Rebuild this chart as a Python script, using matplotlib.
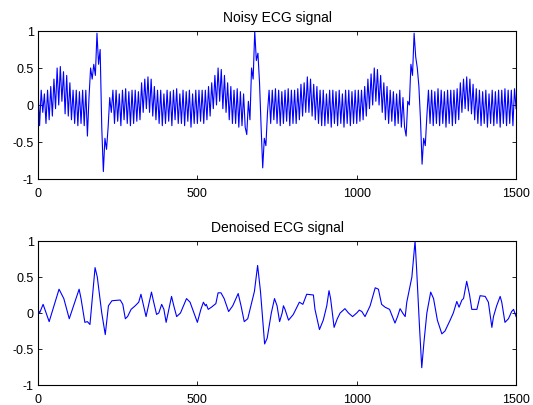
import numpy as np
import matplotlib
matplotlib.use('Agg')
import matplotlib.pyplot as plt

plt.rcParams['font.family'] = ['Liberation Sans', 'DejaVu Sans']
plt.rcParams['axes.unicode_minus'] = False

# noisy ECG, read every 5 samples (alternating noise peaks / troughs)
noisy_step = 5
noisy_y = [
    # 0 - 95
    0.22, -0.28, 0.2, -0.1, 0.15, -0.25, 0.2, -0.2, 0.25, -0.15,
    0.35, -0.05, 0.5, 0.0, 0.52, 0.05, 0.45, -0.12, 0.4, -0.15,
    # 100 - 195
    0.3, -0.2, 0.2, -0.25, 0.2, -0.28, 0.18, -0.25, 0.2, -0.28,
    0.2, -0.42, 0.1, 0.5, 0.35, 0.55, 0.4, 0.97, 0.55, 0.75,
    # 200 - 295
    -0.3, -0.9, -0.45, -0.6, -0.3, 0.1, -0.1, 0.2, -0.25, 0.2,
    -0.22, 0.15, -0.28, 0.2, -0.2, 0.22, -0.25, 0.18, -0.28, 0.2,
    # 300 - 395
    -0.25, 0.2, -0.22, 0.18, -0.2, 0.3, -0.1, 0.35, -0.05, 0.38,
    -0.1, 0.35, -0.15, 0.25, -0.2, 0.2, -0.25, 0.2, -0.28, 0.15,
    # 400 - 495
    -0.25, 0.2, -0.22, 0.18, -0.28, 0.2, -0.2, 0.22, -0.25, 0.15,
    -0.25, 0.2, -0.28, 0.18, -0.22, 0.2, -0.3, 0.15, -0.25, 0.2,
    # 500 - 595
    -0.25, 0.2, -0.22, 0.2, -0.25, 0.2, -0.2, 0.25, -0.15, 0.3,
    -0.05, 0.4, 0.0, 0.5, 0.05, 0.48, -0.05, 0.4, -0.1, 0.3,
    # 600 - 695
    -0.2, 0.25, -0.25, 0.2, -0.25, 0.22, -0.3, 0.18, -0.28, 0.15,
    -0.3, -0.4, 0.05, -0.2, 0.5, 0.35, 1.0, 0.6, 0.7, 0.3,
    # 700 - 795
    -0.3, -0.85, -0.45, -0.55, -0.1, 0.2, -0.25, 0.2, -0.2, 0.22,
    -0.25, 0.2, -0.28, 0.18, -0.25, 0.2, -0.22, 0.22, -0.28, 0.2,
    # 800 - 895
    -0.25, 0.2, -0.25, 0.22, -0.2, 0.28, -0.15, 0.3, -0.1, 0.38,
    -0.1, 0.35, -0.15, 0.28, -0.2, 0.25, -0.25, 0.2, -0.28, 0.2,
    # 900 - 995
    -0.28, 0.15, -0.25, 0.2, -0.3, 0.2, -0.25, 0.18, -0.28, 0.2,
    -0.25, 0.15, -0.3, 0.2, -0.25, 0.2, -0.28, 0.18, -0.25, 0.2,
    # 1000 - 1095
    -0.25, 0.2, -0.22, 0.2, -0.2, 0.25, -0.15, 0.35, -0.05, 0.42,
    0.0, 0.5, 0.05, 0.48, 0.0, 0.4, -0.1, 0.3, -0.2, 0.25,
    # 1100 - 1195
    -0.25, 0.2, -0.22, 0.18, -0.28, 0.15, -0.25, 0.2, -0.3, 0.1,
    -0.3, -0.42, 0.05, 0.0, 0.55, 0.4, 0.97, 0.65, 0.5, 0.25,
    # 1200 - 1295
    -0.2, -0.8, -0.45, -0.55, -0.15, 0.2, -0.25, 0.2, -0.28, 0.18,
    -0.25, 0.22, -0.28, 0.2, -0.25, 0.18, -0.3, 0.2, -0.25, 0.2,
    # 1300 - 1395
    -0.28, 0.2, -0.25, 0.22, -0.2, 0.3, -0.1, 0.35, -0.05, 0.38,
    -0.08, 0.35, -0.12, 0.28, -0.2, 0.22, -0.25, 0.2, -0.28, 0.18,
    # 1400 - 1500
    -0.25, 0.2, -0.3, 0.15, -0.25, 0.2, -0.28, 0.18, -0.25, 0.2,
    -0.3, 0.2, -0.25, 0.22, -0.28, 0.2, -0.25, 0.2, -0.28, 0.22,
    -0.05,
]
noisy_x = np.arange(len(noisy_y)) * noisy_step

# denoised ECG, turning points
den_x = [0, 5, 16, 35, 66, 81, 98, 129, 135, 147, 155, 163, 179, 186, 200,
         211, 221, 232, 258, 266, 274, 281, 292, 305, 316, 323, 339, 356, 363,
         372, 379, 388, 395, 402, 413, 419, 426, 435, 447, 466, 477, 500, 511,
         519, 525, 528, 534, 544, 558, 565, 574, 584, 598, 611, 628, 637, 647,
         658, 679, 689, 698, 705, 711, 719, 732, 742, 750, 758, 766, 770, 775,
         786, 801, 820, 831, 843, 864, 869, 883, 895, 906, 913, 918, 929, 939,
         948, 963, 974, 987, 1000, 1008, 1016, 1026, 1042, 1058, 1068, 1078,
         1089, 1103, 1120, 1128, 1136, 1144, 1152, 1157, 1173, 1183, 1188,
         1197, 1204, 1211, 1220, 1232, 1241, 1253, 1267, 1277, 1293, 1303,
         1314, 1321, 1330, 1335, 1345, 1354, 1361, 1377, 1387, 1403, 1413,
         1424, 1429, 1439, 1450, 1455, 1465, 1476, 1486, 1492, 1500]
den_y = [0.05, 0.0, 0.12, -0.12, 0.33, 0.2, -0.08, 0.33, 0.2, -0.13, -0.12,
         -0.16, 0.63, 0.5, 0.0, -0.3, 0.1, 0.17, 0.18, 0.12, -0.08, -0.05,
         0.05, 0.1, 0.15, 0.26, -0.05, 0.29, 0.15, -0.02, 0.0, 0.12, 0.05,
         -0.13, 0.1, 0.23, 0.1, -0.05, 0.0, 0.2, 0.15, -0.13, 0.05, 0.15, 0.1,
         0.12, 0.05, 0.08, 0.13, 0.28, 0.28, 0.2, 0.02, 0.1, 0.27, 0.1, -0.12,
         -0.08, 0.3, 0.66, 0.3, -0.1, -0.43, -0.35, 0.0, 0.2, 0.1, -0.12, 0.0,
         0.1, 0.05, -0.1, -0.02, 0.15, 0.12, 0.26, 0.25, 0.05, -0.23, -0.1,
         0.1, 0.31, 0.2, -0.2, -0.08, 0.0, 0.06, 0.0, -0.05, 0.0, 0.04, 0.02,
         -0.05, 0.1, 0.35, 0.33, 0.12, 0.08, 0.05, -0.14, -0.05, 0.06, 0.0,
         -0.05, 0.15, 0.5, 1.0, 0.6, -0.2, -0.76, -0.4, 0.0, 0.29, 0.2, -0.1,
         -0.29, -0.25, -0.1, 0.0, 0.16, 0.08, 0.18, 0.2, 0.44, 0.25, 0.05,
         0.05, 0.24, 0.23, 0.15, -0.2, -0.05, 0.1, 0.23, 0.15, -0.13, -0.08,
         0.02, 0.05, -0.05]

titles = ['Noisy ECG signal', 'Denoised ECG signal']
xticks = [0, 500, 1000, 1500]
yticks = [-1, -0.5, 0, 0.5, 1]
yticklabels = ['-1', '-0.5', '0', '0.5', '1']

fig = plt.figure(figsize=(5.33, 4.06), dpi=100)
ax1 = fig.add_axes([0.0713, 0.5567, 0.897, 0.3645])
ax2 = fig.add_axes([0.0713, 0.0493, 0.897, 0.3547])

ax1.plot(noisy_x, noisy_y, color='#0000ff', lw=0.8)
ax2.plot(den_x, den_y, color='#0000ff', lw=0.8)

for ax, t in zip([ax1, ax2], titles):
    ax.set_xlim(0, 1500)
    ax.set_ylim(-1, 1)
    ax.set_xticks(xticks)
    ax.set_yticks(yticks)
    ax.set_yticklabels(yticklabels)
    ax.set_title(t, fontsize=10, pad=7)
    ax.tick_params(direction='in', top=True, right=True, length=3,
                   width=0.6, labelsize=9)
    ax.tick_params(axis='x', pad=5.5)
    ax.tick_params(axis='y', pad=3)
    for s in ax.spines.values():
        s.set_linewidth(0.8)

plt.savefig('out.png', dpi=100)
